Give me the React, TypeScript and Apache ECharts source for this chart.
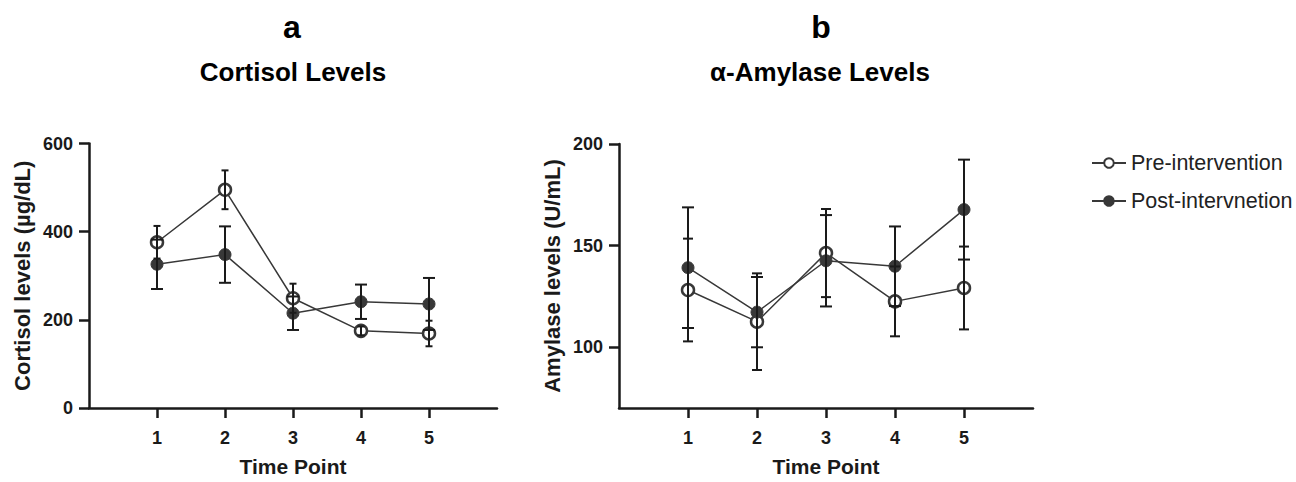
import React, { useEffect, useRef } from "react";
import * as echarts from "echarts";

const timePoints = [1, 2, 3, 4, 5];
const cortisolPre = [376, 495, 249, 175, 169];
const cortisolPreErr = [37, 44, 33, 10, 29];
const cortisolPost = [326, 348, 215, 241, 236];
const cortisolPostErr = [56, 64, 38, 39, 59];
const amylasePre = [128.1, 112.5, 146.3, 122.5, 129.1];
const amylasePreErr = [25.3, 23.8, 21.7, 17.2, 20.4];
const amylasePost = [139.1, 117.2, 142.5, 139.8, 167.7];
const amylasePostErr = [29.7, 17.3, 22.5, 19.6, 24.6];
const cortisolTicks = [0, 200, 400, 600];
const amylaseTicks = [100, 150, 200];

const FONT = "'Liberation Sans', Arial, sans-serif";
const LINE = "#383838";
const INK = "#1a1a1a";

const pts = (vals: number[]) => timePoints.map((t, i) => [t, vals[i]]);
const errs = (vals: number[], e: number[]) =>
  timePoints.map((t, i) => [t, vals[i] - e[i], vals[i] + e[i]]);

const errorSeries = (data: number[][], idx: number, cap: number, name: string) => ({
  type: "custom",
  name: name + " err",
  xAxisIndex: idx,
  yAxisIndex: idx,
  z: 5,
  silent: true,
  data,
  renderItem: (params: any, api: any) => {
    const x = api.value(0);
    const lo = api.coord([x, api.value(1)]);
    const hi = api.coord([x, api.value(2)]);
    const st = { stroke: INK, lineWidth: 2 };
    return {
      type: "group",
      children: [
        { type: "line", shape: { x1: lo[0], y1: lo[1], x2: hi[0], y2: hi[1] }, style: st },
        { type: "line", shape: { x1: lo[0] - cap, y1: lo[1], x2: lo[0] + cap, y2: lo[1] }, style: st },
        { type: "line", shape: { x1: hi[0] - cap, y1: hi[1], x2: hi[0] + cap, y2: hi[1] }, style: st },
      ],
    };
  },
});

const preStyle = {
  symbol: "circle",
  symbolSize: 12,
  itemStyle: { color: "#ffffff", borderColor: LINE, borderWidth: 2.5 },
  lineStyle: { color: LINE, width: 1.5 },
};
const postStyle = {
  symbol: "circle",
  symbolSize: 12,
  itemStyle: { color: LINE, borderColor: LINE, borderWidth: 1 },
  lineStyle: { color: LINE, width: 1.5 },
};

const xAxisCfg = (idx: number) => ({
  type: "value",
  gridIndex: idx,
  min: 0,
  max: 6,
  name: "Time Point",
  nameLocation: "middle",
  nameGap: 48,
  nameTextStyle: { fontFamily: FONT, fontWeight: "bold", fontSize: 21, color: INK },
  axisLine: { show: true, onZero: false, lineStyle: { color: INK, width: 2.5 } },
  axisTick: { show: true, length: 10, customValues: timePoints, lineStyle: { color: INK, width: 2.5 } },
  axisLabel: { customValues: timePoints, margin: 21, fontFamily: FONT, fontWeight: "bold", fontSize: 18, color: INK },
  splitLine: { show: false },
});

const yAxisCfg = (idx: number, name: string, min: number, max: number, ticks: number[]) => ({
  type: "value",
  gridIndex: idx,
  min,
  max,
  name,
  nameLocation: "middle",
  nameGap: 56,
  nameRotate: 90,
  nameTextStyle: { fontFamily: FONT, fontWeight: "bold", fontSize: 22, color: INK },
  axisLine: { show: true, lineStyle: { color: INK, width: 2.5 } },
  axisTick: { show: true, length: 10, customValues: ticks, lineStyle: { color: INK, width: 2.5 } },
  axisLabel: { customValues: ticks, margin: 16, fontFamily: FONT, fontWeight: "bold", fontSize: 18, color: INK },
  splitLine: { show: false },
});

export default function App() {
  const ref = useRef<HTMLDivElement>(null);
  useEffect(() => {
    if (!ref.current) return;
    const chart = echarts.init(ref.current, null, { renderer: "svg" });
    chart.setOption({
      animation: false,
      backgroundColor: "#ffffff",
      grid: [
        { left: 89, top: 143.5, width: 408, height: 270.5 },
        { left: 619, top: 144, width: 414, height: 270 },
      ],
      xAxis: [xAxisCfg(0), xAxisCfg(1)],
      yAxis: [
        yAxisCfg(0, "Cortisol levels (µg/dL)", 0, 600, cortisolTicks),
        yAxisCfg(1, "Amylase levels (U/mL)", 70, 200, amylaseTicks),
      ],
      legend: {
        orient: "vertical",
        left: 1086,
        top: 147,
        itemWidth: 34,
        itemHeight: 12,
        itemGap: 16,
        data: ["Pre-intervention", "Post-intervnetion"],
        textStyle: { fontFamily: FONT, fontSize: 21.5, color: "#222" },
      },
      graphic: [
        { type: "text", x: 292, y: 27, style: { text: "a", font: `bold 32px ${FONT}`, fill: "#000", textAlign: "center", textVerticalAlign: "middle" } },
        { type: "text", x: 293, y: 72, style: { text: "Cortisol Levels", font: `bold 26px ${FONT}`, fill: "#000", textAlign: "center", textVerticalAlign: "middle" } },
        { type: "text", x: 821, y: 27, style: { text: "b", font: `bold 32px ${FONT}`, fill: "#000", textAlign: "center", textVerticalAlign: "middle" } },
        { type: "text", x: 820, y: 72, style: { text: "α-Amylase Levels", font: `bold 26px ${FONT}`, fill: "#000", textAlign: "center", textVerticalAlign: "middle" } },
      ],
      series: [
        { type: "line", name: "Pre-intervention", xAxisIndex: 0, yAxisIndex: 0, data: pts(cortisolPre), z: 3, ...preStyle },
        { type: "line", name: "Post-intervnetion", xAxisIndex: 0, yAxisIndex: 0, data: pts(cortisolPost), z: 3, ...postStyle },
        { type: "line", name: "Pre-intervention", xAxisIndex: 1, yAxisIndex: 1, data: pts(amylasePre), z: 3, ...preStyle },
        { type: "line", name: "Post-intervnetion", xAxisIndex: 1, yAxisIndex: 1, data: pts(amylasePost), z: 3, ...postStyle },
        errorSeries(errs(cortisolPre, cortisolPreErr), 0, 3.5, "pre"),
        errorSeries(errs(cortisolPost, cortisolPostErr), 0, 6, "post"),
        errorSeries(errs(amylasePre, amylasePreErr), 1, 5, "pre"),
        errorSeries(errs(amylasePost, amylasePostErr), 1, 6, "post"),
      ],
    });
    return () => chart.dispose();
  }, []);
  return (
    <div
      ref={ref}
      style={{ position: "absolute", left: 0, top: 0, width: 1296, height: 482, background: "#fff" }}
    />
  );
}
